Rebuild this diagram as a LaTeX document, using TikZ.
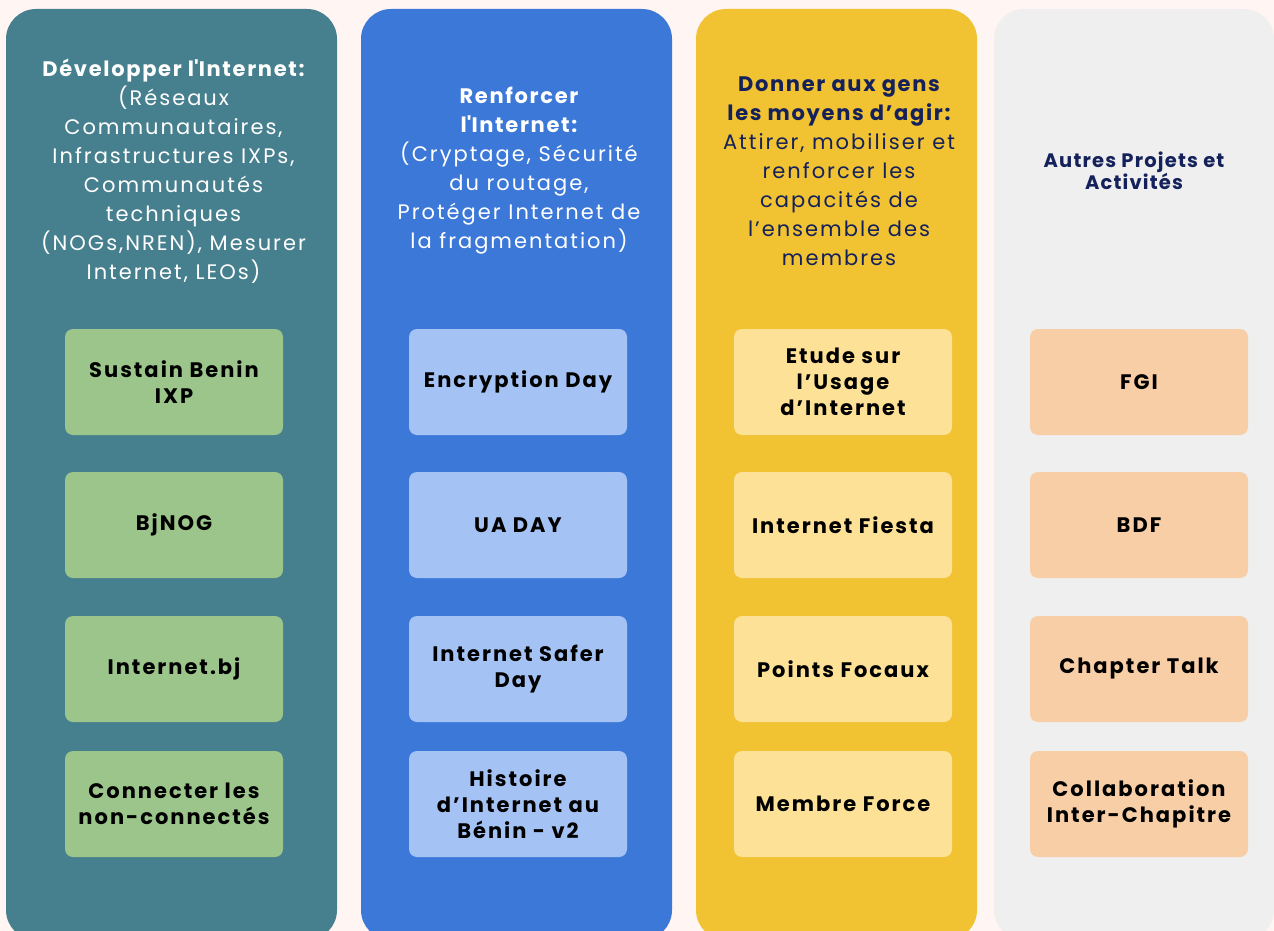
\documentclass[tikz,border=0pt]{standalone}
\usepackage{fontspec}
\setmainfont{Poppins}[LetterSpace=9.5]
\newcommand{\hb}[1]{{\addfontfeature{LetterSpace=8}\bfseries #1}}
\definecolor{bgc}{HTML}{FFF5F3}
\definecolor{tealc}{HTML}{467F8D}
\definecolor{bluec}{HTML}{3C78D8}
\definecolor{yellowc}{HTML}{F1C232}
\definecolor{greyc}{HTML}{EFEFEF}
\definecolor{greenb}{HTML}{9CC58B}
\definecolor{blueb}{HTML}{A4C2F4}
\definecolor{yellowb}{HTML}{FCE196}
\definecolor{peachb}{HTML}{F8CEA6}
\definecolor{navy}{HTML}{14215A}
\tikzset{
  colbox/.style={rounded corners=30pt, inner sep=0pt, minimum height=931pt},
  hdr/.style={align=center, inner sep=0pt, font=\fontsize{21}{29}\selectfont},
  item/.style={rounded corners=8pt, minimum width=218pt, minimum height=106pt, inner sep=0pt,
    align=center, text=black, font=\addfontfeature{LetterSpace=9.5}\bfseries\fontsize{21}{26}\selectfont},
}
\begin{document}
\begin{tikzpicture}[x=1pt,y=-1pt]
\useasboundingbox (0,0) rectangle (1274,931);
\clip (0,0) rectangle (1274,931);
\fill[bgc] (0,0) rectangle (1274,931);
% columns
\node[colbox, fill=tealc, minimum width=331pt] (c1) at (171.5,474.5) {};
\node[colbox, fill=bluec, minimum width=311pt] (c2) at (516.5,474.5) {};
\node[colbox, fill=yellowc, minimum width=281pt] (c3) at (836.5,474.5) {};
\node[colbox, fill=greyc, minimum width=280pt] (c4) at (1134,474.5) {};
% headers
\node[hdr, text=white] (h1) at (173.5,171.5) {\hb{Développer l\textquotesingle Internet:}\\(Réseaux\\Communautaires,\\Infrastructures IXPs,\\Communautés\\techniques\\(NOGs,NREN), Mesurer\\Internet, LEOs)};
\node[hdr, text=white] (h2) at (519,171) {\hb{Renforcer}\\\hb{l\textquotesingle Internet:}\\(Cryptage, Sécurité\\du routage,\\Protéger Internet de\\la fragmentation)};
\node[hdr, text=navy] (h3) at (839,171) {\hb{Donner aux gens}\\\hb{les moyens d’agir:}\\Attirer, mobiliser et\\renforcer les\\capacités de\\l’ensemble des\\membres};
\node[hdr, text=navy, font=\addfontfeature{LetterSpace=6}\bfseries\fontsize{19.5}{22}\selectfont] (h4) at (1134,171) {Autres Projets et\\Activités};
% column 1 items
\node[item, fill=greenb] (a1) at (174,382) {Sustain Benin\\IXP};
\node[item, fill=greenb] (a2) at (174,525) {BjNOG};
\node[item, fill=greenb] (a3) at (174,669) {Internet.bj};
\node[item, fill=greenb] (a4) at (174,804) {Connecter les\\non-connectés};
% column 2 items
\node[item, fill=blueb] (b1) at (518,382) {Encryption Day};
\node[item, fill=blueb] (b2) at (518,525) {UA DAY};
\node[item, fill=blueb] (b3) at (518,669) {Internet Safer\\Day};
\node[item, fill=blueb] (b4) at (518,804) {Histoire\\d’Internet au\\Bénin - v2};
% column 3 items
\node[item, fill=yellowb] (y1) at (843,382) {Etude sur\\l’Usage\\d’Internet};
\node[item, fill=yellowb] (y2) at (843,525) {Internet Fiesta};
\node[item, fill=yellowb] (y3) at (843,669) {Points Focaux};
\node[item, fill=yellowb] (y4) at (843,804) {Membre Force};
% column 4 items
\node[item, fill=peachb] (p1) at (1139,382) {FGI};
\node[item, fill=peachb] (p2) at (1139,525) {BDF};
\node[item, fill=peachb] (p3) at (1139,669) {Chapter Talk};
\node[item, fill=peachb] (p4) at (1139,804) {Collaboration\\Inter-Chapitre};
\end{tikzpicture}
\end{document}
